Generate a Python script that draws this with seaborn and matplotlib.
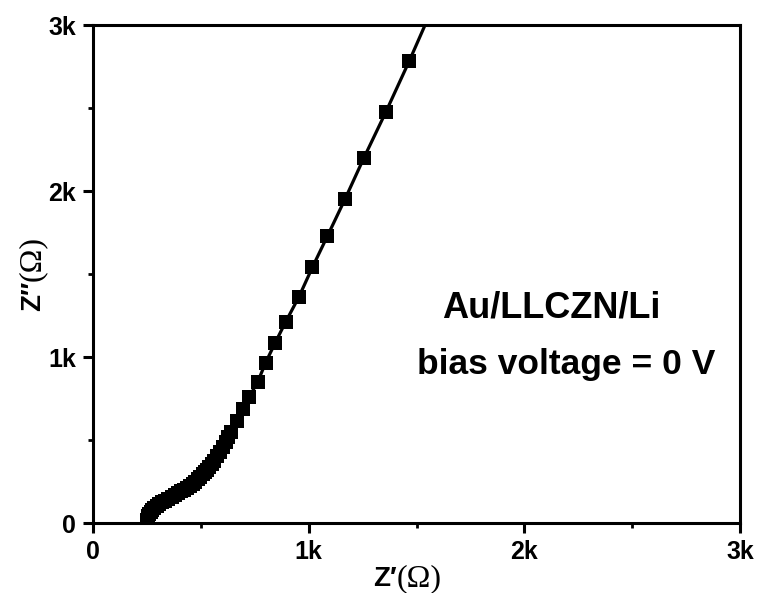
import numpy as np
import pandas as pd
import matplotlib
matplotlib.use("Agg")
import matplotlib.pyplot as plt
import seaborn as sns
from matplotlib.ticker import MultipleLocator, FuncFormatter

# Impedance data (ohm)
z_real = [250, 251, 253, 256, 261, 267, 275, 284, 295, 307, 320, 334, 349, 364,
          380, 395, 410, 424, 438, 451, 463, 475, 486, 497, 508, 518, 528, 538,
          550, 563, 576, 589, 602, 615, 627, 640, 666, 694, 725, 764, 800, 844,
          893, 955, 1017, 1087, 1168, 1255, 1357, 1467, 1570]
z_imag = [6, 18, 30, 42, 54, 66, 78, 90, 102, 113, 124, 135, 146, 157,
          168, 179, 190, 201, 212, 224, 236, 249, 263, 278, 294, 310, 322, 335,
          354, 375, 402, 430, 460, 490, 520, 550, 616, 685, 761, 851, 965, 1084,
          1211, 1363, 1540, 1729, 1950, 2197, 2474, 2785, 3090]

tick_vals = [0, 1000, 2000, 3000]
tick_text = ["0", "1k", "2k", "3k"]

df = pd.DataFrame({"Zre": z_real, "Zim": z_imag})

sns.set_style("ticks", {"text.color": "black", "xtick.color": "black",
                        "ytick.color": "black", "axes.edgecolor": "black"})
plt.rcParams["font.family"] = ["Liberation Sans", "DejaVu Sans"]

fig = plt.figure(figsize=(7.58, 5.93), dpi=100)
ax = fig.add_axes([0.1227, 0.118, 0.8536, 0.8398])

sns.lineplot(
    data=df, x="Zre", y="Zim",
    sort=False, estimator=None,
    color="black", linewidth=2.3,
    marker="s", markersize=9.5,
    markeredgecolor="black", markeredgewidth=0,
    ax=ax
)

ax.set_xlim(0, 3000)
ax.set_ylim(0, 3000)

ax.xaxis.set_major_locator(MultipleLocator(1000))
ax.yaxis.set_major_locator(MultipleLocator(1000))
ax.xaxis.set_minor_locator(MultipleLocator(500))
ax.yaxis.set_minor_locator(MultipleLocator(500))

fmt = FuncFormatter(lambda v, p: tick_text[tick_vals.index(int(round(v)))] if int(round(v)) in tick_vals else "")
ax.xaxis.set_major_formatter(fmt)
ax.yaxis.set_major_formatter(fmt)

ax.tick_params(which="major", direction="out", length=7, width=2.2,
               labelsize=18, pad=5, colors="black")
ax.tick_params(which="minor", direction="out", length=3.5, width=2,
               colors="black")
for lab in ax.get_xticklabels() + ax.get_yticklabels():
    lab.set_fontweight("bold")

for sp in ax.spines.values():
    sp.set_linewidth(2.2)
    sp.set_color("black")
    sp.set_visible(True)

ax.set_xlabel("")
ax.set_ylabel("")

# axis labels: bold sans "Z" with primes, serif "(Ω)"
serif = ["Liberation Serif", "DejaVu Serif"]
ax.text(0.4699, -0.126, "Z\u2032", transform=ax.transAxes, fontsize=20,
        fontweight="bold", color="black", ha="right", va="baseline",
        clip_on=False)
ax.text(0.4699, -0.126, "(\u03a9)", transform=ax.transAxes, fontsize=23,
        family=serif, color="black", ha="left", va="baseline", clip_on=False)
ax.text(-0.082, 0.486, "Z\u2033", transform=ax.transAxes, fontsize=20,
        fontweight="bold", color="black", rotation=90, rotation_mode="anchor",
        ha="right", va="baseline", clip_on=False)
ax.text(-0.082, 0.486, "(\u03a9)", transform=ax.transAxes, fontsize=23,
        family=serif, color="black", rotation=90, rotation_mode="anchor",
        ha="left", va="baseline", clip_on=False)

ax.text(0.708, 0.412, "Au/LLCZN/Li", transform=ax.transAxes, color="black",
        fontsize=26, fontweight="bold", ha="center", va="baseline")
ax.text(0.501, 0.299, "bias voltage = 0 V", transform=ax.transAxes,
        color="black", fontsize=25.5, fontweight="bold", ha="left",
        va="baseline")

plt.savefig("out.png", dpi=100)
